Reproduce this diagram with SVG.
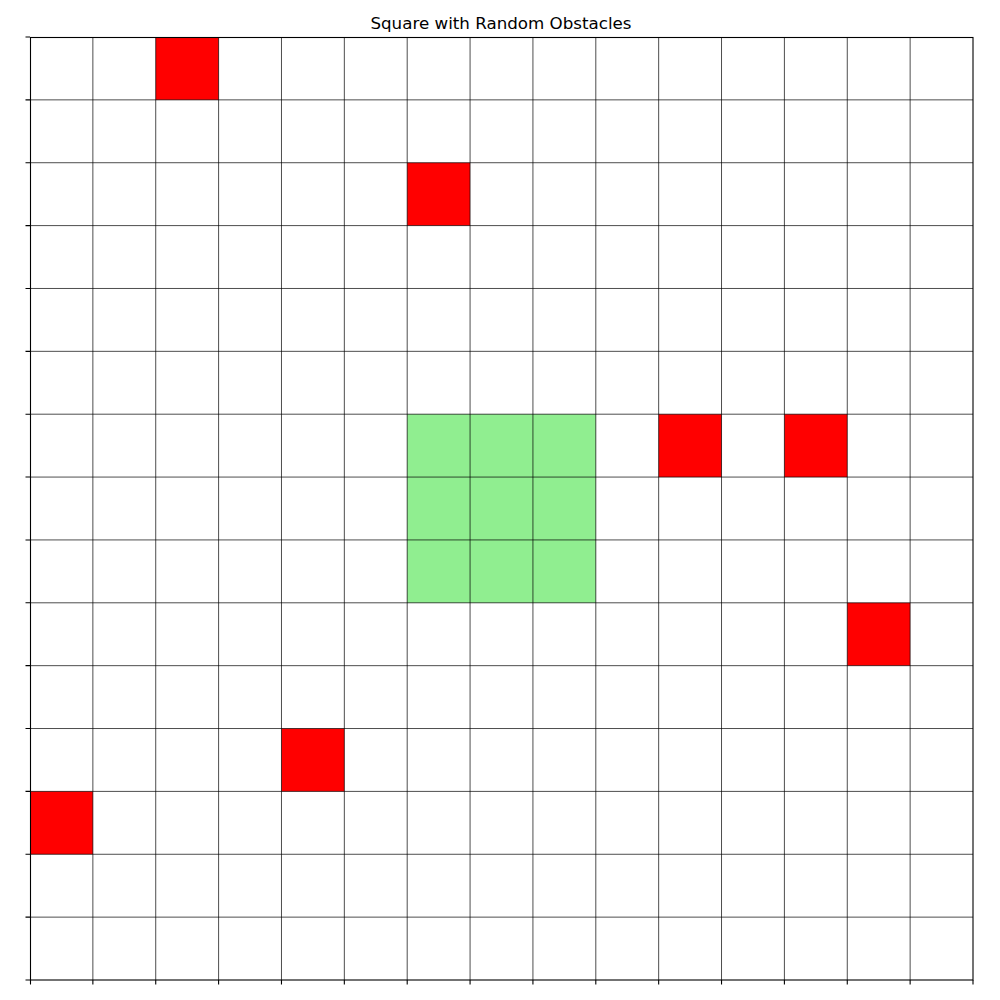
<svg xmlns="http://www.w3.org/2000/svg" width="1000" height="1000" viewBox="0 0 1000 1000">
<style>
.obs{fill:#ff0000}
.goal{fill:#90ee90}
.grid{stroke:#000;stroke-width:0.7;fill:none}
.spine{stroke:#000;stroke-width:1.1;fill:none}
.tick{stroke:#000;stroke-width:1.1}
.title{font-family:"DejaVu Sans",sans-serif;font-size:16.7px;fill:#000}
</style>
<rect width="1000" height="1000" fill="#fff"/>
<text class="title" x="501" y="29" text-anchor="middle">Square with Random Obstacles</text>
<g id="goal">
<rect class="goal" x="407.2" y="414.2" width="188.6" height="188.6"/>
</g>
<g id="obstacles">
<rect class="obs" x="155.73" y="37" width="62.87" height="62.87"/>
<rect class="obs" x="407.2" y="162.73" width="62.87" height="62.87"/>
<rect class="obs" x="658.67" y="414.2" width="62.87" height="62.87"/>
<rect class="obs" x="784.4" y="414.2" width="62.87" height="62.87"/>
<rect class="obs" x="847.27" y="602.8" width="62.87" height="62.87"/>
<rect class="obs" x="281.47" y="728.53" width="62.87" height="62.87"/>
<rect class="obs" x="30" y="791.4" width="62.87" height="62.87"/>
</g>
<g id="grid" class="grid">
<path d="M92.87 37V980M155.73 37V980M218.6 37V980M281.47 37V980M344.33 37V980M407.2 37V980M470.07 37V980M532.93 37V980M595.8 37V980M658.67 37V980M721.53 37V980M784.4 37V980M847.27 37V980M910.13 37V980"/>
<path d="M30 99.87H973M30 162.73H973M30 225.6H973M30 288.47H973M30 351.33H973M30 414.2H973M30 477.07H973M30 539.93H973M30 602.8H973M30 665.67H973M30 728.53H973M30 791.4H973M30 854.27H973M30 917.13H973"/>
</g>
<g id="ticks" class="tick">
<path d="M25.5 37H30M25.5 99.87H30M25.5 162.73H30M25.5 225.6H30M25.5 288.47H30M25.5 351.33H30M25.5 414.2H30M25.5 477.07H30M25.5 539.93H30M25.5 602.8H30M25.5 665.67H30M25.5 728.53H30M25.5 791.4H30M25.5 854.27H30M25.5 917.13H30M25.5 980H30"/>
<path d="M30.5 980V984.5M92.87 980V984.5M155.73 980V984.5M218.6 980V984.5M281.47 980V984.5M344.33 980V984.5M407.2 980V984.5M470.07 980V984.5M532.93 980V984.5M595.8 980V984.5M658.67 980V984.5M721.53 980V984.5M784.4 980V984.5M847.27 980V984.5M910.13 980V984.5M973 980V984.5"/>
</g>
<rect id="axes" class="spine" x="30.5" y="37.5" width="942.5" height="942.5"/>
</svg>
